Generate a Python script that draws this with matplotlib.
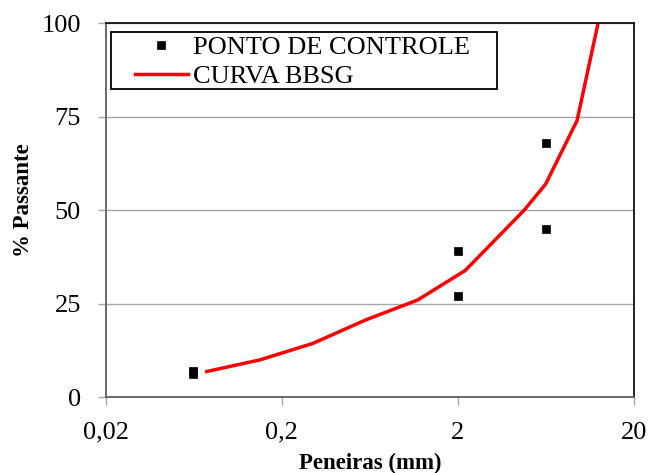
import matplotlib
matplotlib.use("Agg")
import matplotlib.pyplot as plt
from matplotlib.patches import Rectangle
from matplotlib.ticker import FixedLocator, FixedFormatter, NullLocator

plt.rcParams['font.family'] = ['Liberation Serif', 'DejaVu Serif']

# Data
ponto_x = [0.063, 0.063, 2.0, 2.0, 6.3, 6.3]
ponto_y = [7.1, 6.2, 39.0, 27.0, 68.0, 45.0]

curva_x = [0.075, 0.15, 0.3, 0.6, 1.18, 2.2, 4.75, 6.3, 9.5, 12.5]
curva_y = [6.9, 10.0, 14.4, 20.7, 26.0, 33.9, 50.0, 57.0, 74.0, 100.0]

xticks = [0.02, 0.2, 2, 20]
xticklabels = ['0,02', '0,2', '2', '20']
yticks = [0, 25, 50, 75, 100]

W, H = 651, 473
fig = plt.figure(figsize=(W / 100, H / 100), dpi=100)
ax = fig.add_axes([105.7 / W, (H - 397.3) / H, 528.3 / W, 374.0 / H])

ax.plot(ponto_x, ponto_y, linestyle='none', marker='s', markersize=6.2,
        markeredgewidth=0.5, color='black', label='PONTO DE CONTROLE', zorder=3)
ax.plot(curva_x, curva_y, color='#ff0000', linewidth=2.5,
        label='CURVA BBSG', zorder=2, solid_joinstyle='miter')

ax.set_xscale('log')
ax.set_xlim(0.02, 20)
ax.set_ylim(0, 100)
ax.xaxis.set_major_locator(FixedLocator(xticks))
ax.xaxis.set_major_formatter(FixedFormatter(xticklabels))
ax.xaxis.set_minor_locator(NullLocator())
ax.set_yticks(yticks)

ax.yaxis.grid(True, color='#a6a6a6', linewidth=1.0)
ax.set_axisbelow(True)

for side in ['left', 'bottom']:
    ax.spines[side].set_color('#5f5f5f')
    ax.spines[side].set_linewidth(1.3)
for side in ['top', 'right']:
    ax.spines[side].set_color('#111111')
    ax.spines[side].set_linewidth(1.3)

ax.tick_params(axis='both', which='major', direction='out', length=5.7,
               width=1.0, color='#a6a6a6', labelsize=19, pad=12)

# axis titles
fig.text(369.8 / W, 1 - 469 / H, 'Peneiras (mm)', fontsize=16.5, fontweight='bold',
         ha='center', va='baseline')
fig.text(24 / W, 1 - 200 / H, '% Passante', fontsize=16.5, fontweight='bold',
         ha='center', va='center', rotation=90)

# legend frame (drawn inside the axes, below the legend entries)
frame = Rectangle((111 / W, 1 - 89.3 / H), (497 - 111) / W, (89.3 - 31.7) / H,
                  transform=fig.transFigure, facecolor='white', edgecolor='black',
                  linewidth=1.3, zorder=4, clip_on=False)
ax.add_patch(frame)

leg = ax.legend(loc='upper left',
                bbox_to_anchor=(135 / W, 1 - 35.5 / H),
                bbox_transform=fig.transFigure, fontsize=19,
                frameon=False, borderpad=0.0, labelspacing=0.22,
                handlelength=2.0, handletextpad=0.2, borderaxespad=0.0)
leg.set_zorder(5)

fig.savefig('out.png', dpi=100)
